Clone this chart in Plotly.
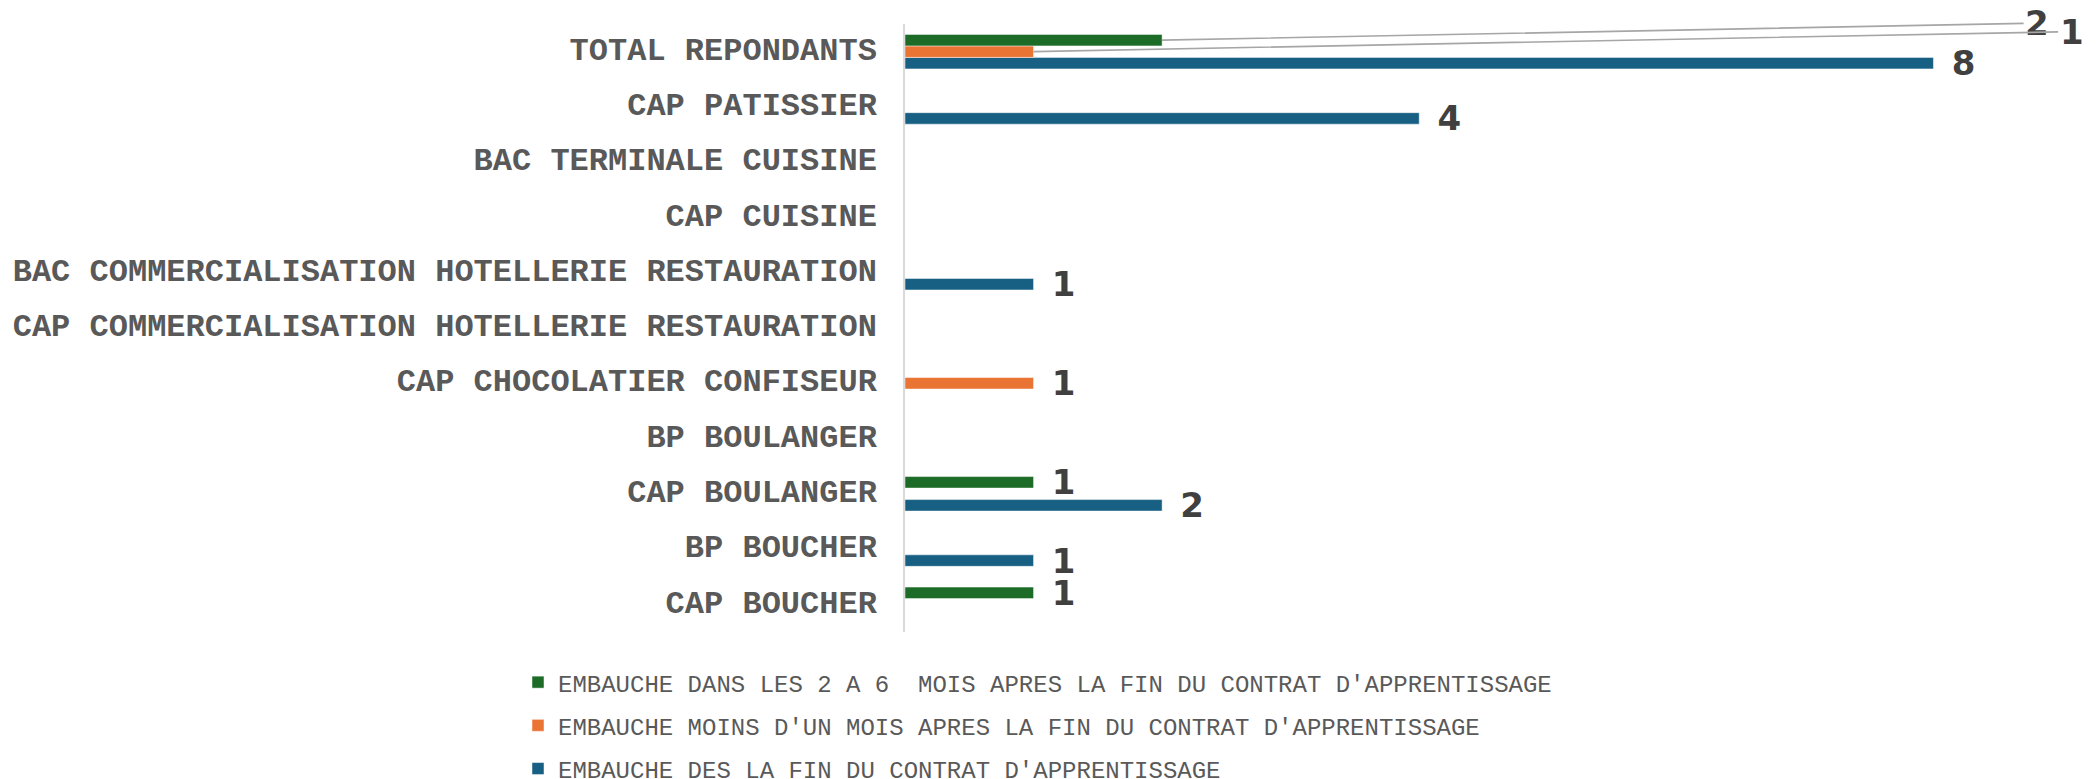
import plotly.graph_objects as go

# ---- data (bottom to top, as drawn) ----
categories = [
    "CAP BOUCHER",
    "BP BOUCHER",
    "CAP BOULANGER",
    "BP BOULANGER",
    "CAP CHOCOLATIER CONFISEUR",
    "CAP COMMERCIALISATION HOTELLERIE RESTAURATION",
    "BAC COMMERCIALISATION HOTELLERIE RESTAURATION",
    "CAP CUISINE",
    "BAC TERMINALE CUISINE",
    "CAP PATISSIER",
    "TOTAL REPONDANTS",
]
des_la_fin = [0, 1, 2, 0, 0, 0, 1, 0, 0, 4, 8]
moins_un_mois = [0, 0, 0, 0, 1, 0, 0, 0, 0, 0, 1]
deux_a_six_mois = [1, 0, 1, 0, 0, 0, 0, 0, 0, 0, 2]

series_names = [
    "EMBAUCHE DES LA FIN DU CONTRAT D'APPRENTISSAGE",
    "EMBAUCHE MOINS D'UN MOIS APRES LA FIN DU CONTRAT D'APPRENTISSAGE",
    "EMBAUCHE DANS LES 2 A 6 \u00a0MOIS APRES LA FIN DU CONTRAT D'APPRENTISSAGE",
]
series_values = [des_la_fin, moins_un_mois, deux_a_six_mois]
series_colors = ["#185f84", "#ea7434", "#1c6b26"]
legend_ranks = [3, 2, 1]
# labels that were dragged away from their bars in the original (series index, category)
moved_labels = {(1, "TOTAL REPONDANTS"), (2, "TOTAL REPONDANTS")}

LABEL_FONT = dict(family="DejaVu Sans", size=34, color="#404040", weight="bold")

fig = go.Figure()
for i, (name, vals, col) in enumerate(zip(series_names, series_values, series_colors)):
    texts = []
    for c, v in zip(categories, vals):
        if v == 0 or (i, c) in moved_labels:
            texts.append("")
        else:
            texts.append(" \u200a" + str(v))
    fig.add_trace(go.Bar(
        x=vals, y=categories, orientation="h", name=name,
        marker=dict(color=col, line=dict(color="rgba(255,255,255,0.6)", width=0.8)),
        text=texts, textposition="outside", textangle=0,
        constraintext="none", cliponaxis=False,
        outsidetextfont=LABEL_FONT,
        legendgroup=f"g{i}", legendrank=legend_ranks[i],
        hoverinfo="x+y+name",
    ))

# moved labels with leader lines
fig.add_annotation(
    x=deux_a_six_mois[-1], y=categories[-1], yshift=11.5,
    text="2", font=LABEL_FONT, showarrow=True, arrowhead=0,
    arrowwidth=1.6, arrowcolor="#a6a6a6", ax=875, ay=-17, standoff=0,
)
fig.add_annotation(
    x=moins_un_mois[-1], y=categories[-1],
    text="1", font=LABEL_FONT, showarrow=True, arrowhead=0,
    arrowwidth=1.6, arrowcolor="#a6a6a6", ax=1038, ay=-20, standoff=0,
)

# the page body adds an 8px offset, so the figure is 8px smaller than the window
fig.update_layout(
    template="none",
    width=2091, height=771,
    margin=dict(l=897, r=37, t=16, b=147, autoexpand=False),
    paper_bgcolor="white", plot_bgcolor="white",
    barmode="group", bargap=0.376, bargroupgap=0,
    showlegend=True,
    legend=dict(
        traceorder="grouped", tracegroupgap=9,
        xref="container", yref="container",
        x=0.2439, y=0.1543, xanchor="left", yanchor="top",
        font=dict(family="Liberation Mono", size=24, color="#595959"),
        bgcolor="rgba(0,0,0,0)", itemclick=False,
    ),
    xaxis=dict(range=[0, 9], visible=False, showgrid=False, zeroline=False,
               fixedrange=True, automargin=False),
    yaxis=dict(
        type="category", categoryorder="array", categoryarray=categories,
        range=[-0.5, len(categories) - 0.5], autorange=False,
        showline=True, linecolor="#d9d9d9", linewidth=1.5,
        showgrid=False, zeroline=False, ticks="", automargin=False,
        ticklabelstandoff=20, ticklabelshift=-3,
        tickfont=dict(family="Liberation Mono", size=32, color="#595959", weight="bold"),
    ),
)

fig.write_html("out.html")
